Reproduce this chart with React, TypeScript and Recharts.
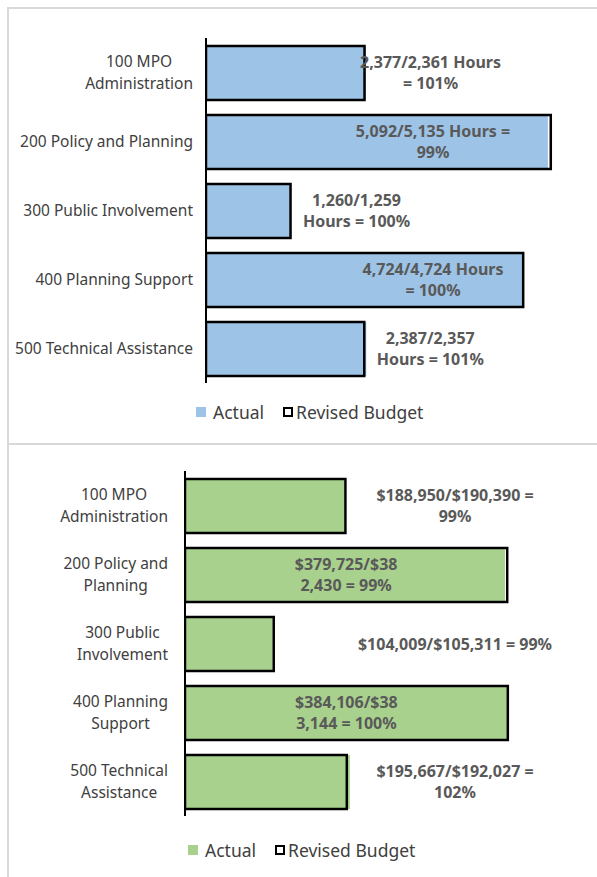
import React from 'react';
import { BarChart, Bar, XAxis, YAxis, Legend, LabelList } from 'recharts';

// top chart: hours
const hourCategories = [
  ['100 MPO', 'Administration'],
  ['200 Policy and Planning'],
  ['300 Public Involvement'],
  ['400 Planning Support'],
  ['500 Technical Assistance'],
];
const hoursActual = [2377, 5092, 1260, 4724, 2387];
const hoursBudget = [2361, 5135, 1259, 4724, 2357];
const hoursLabels = [
  ['2,377/2,361 Hours', '= 101%'],
  ['5,092/5,135 Hours =', '99%'],
  ['1,260/1,259', 'Hours = 100%'],
  ['4,724/4,724 Hours', '= 100%'],
  ['2,387/2,357', 'Hours = 101%'],
];

// bottom chart: dollars
const costCategories = [
  ['100 MPO', 'Administration'],
  ['200 Policy and', 'Planning'],
  ['300 Public', 'Involvement'],
  ['400 Planning', 'Support'],
  ['500 Technical', 'Assistance'],
];
const costActual = [188950, 379725, 104009, 384106, 195667];
const costBudget = [190390, 382430, 105311, 383144, 192027];
const costLabels = [
  ['$188,950/$190,390 =', '99%'],
  ['$379,725/$38', '2,430 = 99%'],
  ['$104,009/$105,311 = 99%'],
  ['$384,106/$38', '3,144 = 100%'],
  ['$195,667/$192,027 =', '102%'],
];

const BLUE = '#9dc3e6';
const GREEN = '#a9d18e';
const FONT = '"Noto Sans", sans-serif';
const CAT_SIZE = 15.5;
const VAL_SIZE = 16;

let ctx: CanvasRenderingContext2D | null = null;
function textWidth(s: string, font: string) {
  if (!ctx) ctx = document.createElement('canvas').getContext('2d');
  if (!ctx) return s.length * 8;
  ctx.font = font;
  return ctx.measureText(s).width;
}

function CategoryTick(props: any) {
  const { y, lines, right } = props;
  const widths = lines.map((l: string) => textWidth(l, `${CAT_SIZE}px "Noto Sans"`));
  const cx = right - Math.max(...widths) / 2;
  const lh = 22;
  const top = y - ((lines.length - 1) * lh) / 2;
  return (
    <text textAnchor="middle" fontFamily={FONT} fontSize={CAT_SIZE} fill="#404040">
      {lines.map((l: string, i: number) => (
        <tspan key={i} x={cx} y={top + i * lh} dy="0.35em">
          {l}
        </tspan>
      ))}
    </text>
  );
}

function ValueLabel(props: any) {
  const { lines, centerX } = props;
  const vb = props.viewBox && props.viewBox.width !== undefined ? props.viewBox : props;
  const { x, y, width, height } = vb;
  const cx = centerX(x, width);
  const cy = y + height / 2;
  const lh = 21;
  const top = cy - ((lines.length - 1) * lh) / 2;
  return (
    <text textAnchor="middle" fontFamily={FONT} fontSize={VAL_SIZE} fontWeight="bold" fill="#595959">
      {lines.map((l: string, i: number) => (
        <tspan key={i} x={cx} y={top + i * lh} dy="0.35em">
          {l}
        </tspan>
      ))}
    </text>
  );
}

function LegendBox({ fill }: { fill: string }) {
  return (
    <div style={{ display: 'flex', alignItems: 'center', height: 24, fontFamily: FONT, fontSize: 17.5, color: '#404040', whiteSpace: 'nowrap' }}>
      <span style={{ width: 10, height: 10, background: fill, display: 'inline-block', marginRight: 7 }} />
      <span>Actual</span>
      <span style={{ width: 6, height: 6, border: '2.5px solid #000', display: 'inline-block', marginLeft: 19, marginRight: 3 }} />
      <span>Revised Budget</span>
    </div>
  );
}

interface PanelProps {
  categories: string[][];
  actual: number[];
  budget: number[];
  labels: string[][];
  fill: string;
  max: number;
  height: number;
  axisWidth: number;
  tickRight: number;
  margin: { top: number; right: number; bottom: number; left: number };
  legendTop: number;
  legendLeft: number;
  centerX: (x: number, w: number) => number;
}

function Panel(p: PanelProps) {
  const data = p.categories.map((c, i) => ({
    name: c.join(' '),
    actual: p.actual[i],
    budget: p.budget[i],
  }));
  return (
    <BarChart width={597} height={p.height} data={data} layout="vertical" margin={p.margin} barGap={-54}>
      <XAxis type="number" domain={[0, p.max]} hide allowDataOverflow />
      <YAxis
        type="category"
        dataKey="name"
        width={p.axisWidth}
        axisLine={{ stroke: '#000', strokeWidth: 2 }}
        tickLine={false}
        interval={0}
        tick={(t: any) => <CategoryTick {...t} lines={p.categories[t.index]} right={p.tickRight} />}
      />
      <Legend
        verticalAlign="bottom"
        wrapperStyle={{ top: p.legendTop, bottom: 'auto', left: p.legendLeft, width: 'auto' }}
        content={() => <LegendBox fill={p.fill} />}
      />
      <Bar dataKey="actual" name="Actual" fill={p.fill} barSize={54} isAnimationActive={false} />
      <Bar dataKey="budget" name="Revised Budget" fill="none" stroke="#000" strokeWidth={2.5} barSize={54} isAnimationActive={false}>
        <LabelList
          dataKey="budget"
          content={(l: any) => <ValueLabel {...l} lines={p.labels[l.index]} centerX={p.centerX} />}
        />
      </Bar>
    </BarChart>
  );
}

export default function App() {
  return (
    <div style={{ position: 'absolute', left: 0, top: 0, width: 597, height: 877, background: '#fff', overflow: 'hidden' }}>
      <div style={{ position: 'absolute', left: 7, top: 7, width: 590, height: 870, borderTop: '2px solid #d9d9d9', borderLeft: '2px solid #d9d9d9' }} />
      <div style={{ position: 'absolute', left: 8, top: 443, width: 589, height: 2, background: '#d9d9d9' }} />

      <div style={{ position: 'absolute', left: 0, top: 0 }}>
        <Panel
          categories={hourCategories}
          actual={hoursActual}
          budget={hoursBudget}
          labels={hoursLabels}
          fill={BLUE}
          max={5600}
          height={443}
          axisWidth={206}
          tickRight={193}
          margin={{ top: 38, right: 15, bottom: 36, left: 0 }}
          legendTop={400}
          legendLeft={196}
          centerX={(x, w) => Math.min(x + w + 66, 433)}
        />
      </div>

      <div style={{ position: 'absolute', left: 0, top: 445 }}>
        <Panel
          categories={costCategories}
          actual={costActual}
          budget={costBudget}
          labels={costLabels}
          fill={GREEN}
          max={470000}
          height={432}
          axisWidth={185}
          tickRight={168}
          margin={{ top: 26, right: 16, bottom: 37, left: 0 }}
          legendTop={393}
          legendLeft={188}
          centerX={(x, w) => (x + w > 450 ? x + w / 2 : 455)}
        />
      </div>
    </div>
  );
}
